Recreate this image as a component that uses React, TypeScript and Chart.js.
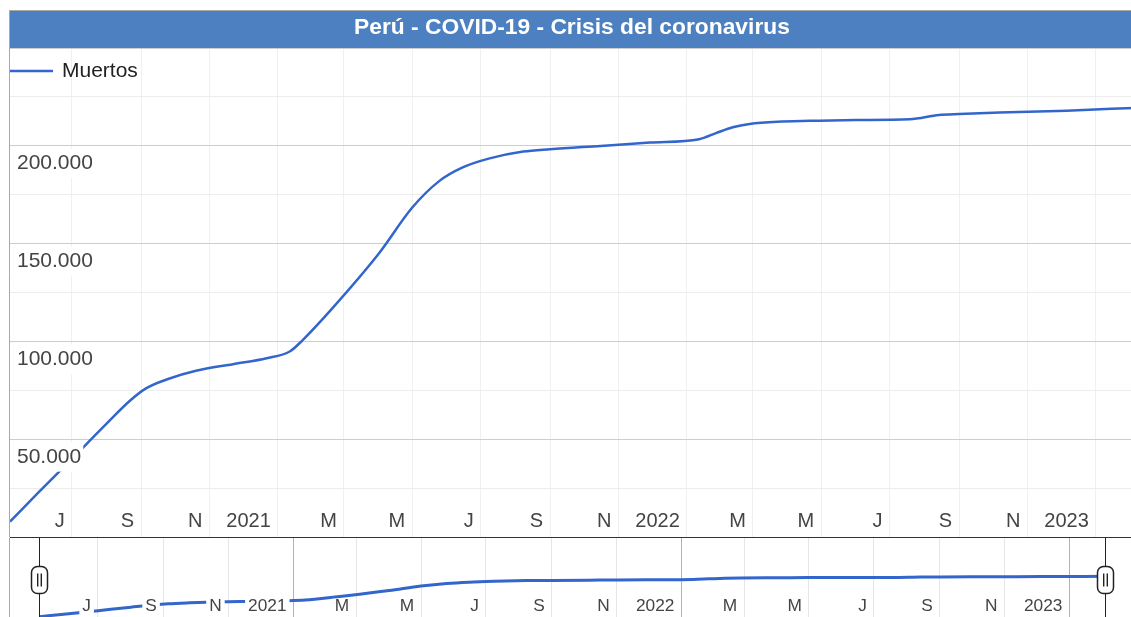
import React, { useEffect, useRef } from 'react';
import { Chart, registerables } from 'chart.js';

Chart.register(...registerables);

// ---------- data ----------
const TITLE = 'Perú - COVID-19 - Crisis del coronavirus';
const SERIES_LABEL = 'Muertos';

const dates = [
  '2020-05-07', '2020-06-01', '2020-07-01', '2020-08-01', '2020-08-22', '2020-09-05',
  '2020-09-25', '2020-10-20', '2020-11-22', '2020-12-22', '2021-01-12', '2021-01-23',
  '2021-02-20', '2021-04-01', '2021-05-01', '2021-05-25', '2021-06-15', '2021-07-09',
  '2021-08-08', '2021-09-01', '2021-10-16', '2021-11-29', '2022-01-12', '2022-01-27',
  '2022-02-11', '2022-02-26', '2022-03-27', '2022-04-29', '2022-06-01', '2022-07-19',
  '2022-08-14', '2022-09-01', '2022-10-07', '2022-12-06', '2023-02-04',
];
const deaths = [
  8100, 22700, 40000, 58000, 69800, 76000,
  80900, 85100, 88500, 91500, 95100, 100700,
  117900, 144900, 168500, 182000, 189000, 193600,
  197100, 198300, 200000, 201700, 203400, 206500,
  209500, 211200, 212400, 212900, 213200, 213600,
  215800, 216300, 217000, 218000, 219400,
];

const xTickDates = [
  '2020-07-01', '2020-09-01', '2020-11-01', '2021-01-01', '2021-03-01', '2021-05-01',
  '2021-07-01', '2021-09-01', '2021-11-01', '2022-01-01', '2022-03-01', '2022-05-01',
  '2022-07-01', '2022-09-01', '2022-11-01', '2023-01-01',
];
const xTickLabels = ['J', 'S', 'N', '2021', 'M', 'M', 'J', 'S', 'N', '2022', 'M', 'M', 'J', 'S', 'N', '2023'];

const yGridValues = [25000, 50000, 75000, 100000, 125000, 150000, 175000, 200000, 225000, 250000];
const yLabelValues = [50000, 100000, 150000, 200000];
const yTickLabels = ['50.000', '100.000', '150.000', '200.000'];

// ---------- styling ----------
const FAMILY = '"Liberation Sans", Arial, Helvetica, sans-serif';
const BLUE = '#3366cc';
const TITLE_BG = '#4d80c1';
const FRAME = '#a9a9a9';

const dayOf = (iso: string) => {
  const [y, m, d] = iso.split('-').map(Number);
  return Date.UTC(y, m - 1, d) / 86400000;
};
const points = dates.map((d, i) => ({ x: dayOf(d), y: deaths[i] }));
const xMin = dayOf(dates[0]);
const xMax = dayOf(dates[dates.length - 1]);
const xTicks = xTickDates.map(dayOf);
const isYear = (v: number) => {
  const i = xTicks.indexOf(v);
  return i >= 0 && xTickDates[i].endsWith('-01-01');
};

const MAIN_W = 1140;
const MAIN_H = 560;
const NAV_W = 1140;
const NAV_H = 90;

function drawXLabels(chart: any, y: number, size: number, gap: number) {
  const { ctx } = chart;
  const xs = chart.scales.x;
  ctx.save();
  ctx.font = `${size}px ${FAMILY}`;
  ctx.textAlign = 'right';
  ctx.textBaseline = 'middle';
  xTicks.forEach((v, i) => {
    const px = xs.getPixelForValue(v) - gap;
    const txt = xTickLabels[i];
    const w = ctx.measureText(txt).width;
    ctx.fillStyle = '#ffffff';
    ctx.fillRect(px - w - 3, y - size * 0.45, w + 6, size * 0.9);
    ctx.fillStyle = '#444444';
    ctx.fillText(txt, px, y);
  });
  ctx.restore();
}

const mainPlugin = {
  id: 'mainDecor',
  beforeDraw(chart: any) {
    const { ctx, chartArea } = chart;
    const t = chart.titleBlock;
    ctx.save();
    ctx.fillStyle = TITLE_BG;
    ctx.fillRect(chartArea.left, t.top, chart.width - chartArea.left, t.bottom - t.top);
    ctx.restore();
  },
  afterDatasetsDraw(chart: any) {
    drawXLabels(chart, 521.5, 20, 7);
  },
  afterDraw(chart: any) {
    const { ctx, chartArea } = chart;
    const t = chart.titleBlock;
    ctx.save();
    // frame
    ctx.strokeStyle = FRAME;
    ctx.lineWidth = 1;
    ctx.beginPath();
    ctx.moveTo(chartArea.left - 1, t.top + 0.5);
    ctx.lineTo(chart.width, t.top + 0.5);
    ctx.moveTo(chartArea.left - 0.5, t.top);
    ctx.lineTo(chartArea.left - 0.5, chartArea.bottom);
    ctx.stroke();
    // legend
    const ds = chart.data.datasets[0];
    const ly = chartArea.top + 23;
    ctx.strokeStyle = ds.borderColor;
    ctx.lineWidth = 2.5;
    ctx.beginPath();
    ctx.moveTo(chartArea.left, ly);
    ctx.lineTo(chartArea.left + 43, ly);
    ctx.stroke();
    ctx.fillStyle = '#222222';
    ctx.font = `21px ${FAMILY}`;
    ctx.textAlign = 'left';
    ctx.textBaseline = 'middle';
    ctx.fillText(ds.label, chartArea.left + 52, ly);
    ctx.restore();
  },
};

const navPlugin = {
  id: 'navDecor',
  afterDatasetsDraw(chart: any) {
    drawXLabels(chart, 68.5, 17.3, 7);
  },
  afterDraw(chart: any) {
    const { ctx, chartArea } = chart;
    ctx.save();
    ctx.strokeStyle = FRAME;
    ctx.lineWidth = 1;
    ctx.beginPath();
    ctx.moveTo(9.5, 0);
    ctx.lineTo(9.5, chart.height);
    ctx.stroke();
    [chartArea.left, chartArea.right].forEach((hx: number) => {
      const cx = Math.round(hx) - 0.5;
      ctx.strokeStyle = '#222222';
      ctx.lineWidth = 1;
      ctx.beginPath();
      ctx.moveTo(cx, 0);
      ctx.lineTo(cx, chart.height);
      ctx.stroke();
      const w = 16;
      const h = 27;
      const top = 28.5;
      ctx.beginPath();
      ctx.roundRect(cx - w / 2, top, w, h, 6);
      ctx.fillStyle = '#ffffff';
      ctx.fill();
      ctx.lineWidth = 1.5;
      ctx.strokeStyle = '#222222';
      ctx.stroke();
      ctx.lineWidth = 1.4;
      ctx.beginPath();
      ctx.moveTo(cx - 1.8, top + 7);
      ctx.lineTo(cx - 1.8, top + h - 7);
      ctx.moveTo(cx + 1.8, top + 7);
      ctx.lineTo(cx + 1.8, top + h - 7);
      ctx.stroke();
    });
    ctx.restore();
  },
};

export default function App() {
  const mainRef = useRef<HTMLCanvasElement>(null);
  const navRef = useRef<HTMLCanvasElement>(null);

  useEffect(() => {
    Chart.defaults.font.family = FAMILY;

    const mainRight = 1133.9;
    const mainBottom = 537.4;

    const main = new Chart(mainRef.current as HTMLCanvasElement, {
      type: 'line',
      data: {
        datasets: [
          {
            label: SERIES_LABEL,
            data: points,
            borderColor: BLUE,
            backgroundColor: BLUE,
            borderWidth: 2.5,
            pointRadius: 0,
            cubicInterpolationMode: 'monotone',
            fill: false,
          },
        ],
      },
      options: {
        animation: false,
        responsive: false,
        maintainAspectRatio: false,
        events: [],
        layout: {
          padding: { left: 10, right: MAIN_W - mainRight, top: 10, bottom: MAIN_H - mainBottom },
        },
        plugins: {
          legend: { display: false },
          tooltip: { enabled: false },
          title: {
            display: true,
            text: TITLE,
            color: '#ffffff',
            font: { family: FAMILY, size: 22.8, weight: 'bold' },
            padding: { top: 4, bottom: 6.64 },
          },
        },
        scales: {
          x: {
            type: 'linear',
            min: xMin,
            max: xMax,
            afterBuildTicks: (s: any) => {
              s.ticks = xTicks.map((v) => ({ value: v }));
            },
            ticks: { display: false },
            grid: { color: '#f0f0f0', drawTicks: false },
            border: { display: true, color: '#333333', width: 1 },
          },
          y: {
            type: 'linear',
            min: 0,
            max: 250000,
            afterBuildTicks: (s: any) => {
              s.ticks = yGridValues.map((v) => ({ value: v }));
            },
            afterFit: (s: any) => {
              s.width = 0;
            },
            grid: {
              drawTicks: false,
              color: (c: any) => (c.tick && c.tick.value % 50000 === 0 ? '#cdcdcd' : '#ececec'),
            },
            border: { display: false },
            ticks: {
              mirror: true,
              padding: 7,
              labelOffset: 17.5,
              z: 1,
              autoSkip: false,
              color: '#444444',
              font: { family: FAMILY, size: 21 },
              showLabelBackdrop: true,
              backdropPadding: 2,
              backdropColor: (c: any) =>
                c.tick && yLabelValues.includes(c.tick.value) ? '#ffffff' : 'rgba(0,0,0,0)',
              callback: (v: any) => {
                const i = yLabelValues.indexOf(Number(v));
                return i >= 0 ? yTickLabels[i] : '';
              },
            },
          },
        },
      } as any,
      plugins: [mainPlugin],
    });

    const navLeft = 39.5;
    const navRight = 1105.5;
    const navBottom = 80.3;

    const nav = new Chart(navRef.current as HTMLCanvasElement, {
      type: 'line',
      data: {
        datasets: [
          {
            label: SERIES_LABEL,
            data: points,
            borderColor: BLUE,
            borderWidth: 3,
            pointRadius: 0,
            cubicInterpolationMode: 'monotone',
            fill: false,
          },
        ],
      },
      options: {
        animation: false,
        responsive: false,
        maintainAspectRatio: false,
        events: [],
        layout: {
          padding: { left: navLeft, right: NAV_W - navRight, top: 0, bottom: NAV_H - navBottom },
        },
        plugins: {
          legend: { display: false },
          tooltip: { enabled: false },
          title: { display: false },
        },
        scales: {
          x: {
            type: 'linear',
            min: xMin,
            max: xMax,
            afterBuildTicks: (s: any) => {
              s.ticks = xTicks.map((v) => ({ value: v }));
            },
            ticks: { display: false },
            grid: {
              drawTicks: false,
              color: (c: any) => (c.tick && isYear(c.tick.value) ? '#b3b3b3' : '#e6e6e6'),
            },
            border: { display: false },
          },
          y: { type: 'linear', display: false, min: 0, max: 420000 },
        },
      } as any,
      plugins: [navPlugin],
    });

    return () => {
      main.destroy();
      nav.destroy();
    };
  }, []);

  return (
    <div
      style={{
        position: 'absolute',
        left: 0,
        top: 0,
        width: 1131,
        height: 617,
        overflow: 'hidden',
        background: '#ffffff',
      }}
    >
      <canvas
        ref={mainRef}
        width={MAIN_W}
        height={MAIN_H}
        style={{ position: 'absolute', left: 0, top: 0, width: MAIN_W, height: MAIN_H, display: 'block' }}
      />
      <canvas
        ref={navRef}
        width={NAV_W}
        height={NAV_H}
        style={{ position: 'absolute', left: 0, top: 538, width: NAV_W, height: NAV_H, display: 'block' }}
      />
    </div>
  );
}
